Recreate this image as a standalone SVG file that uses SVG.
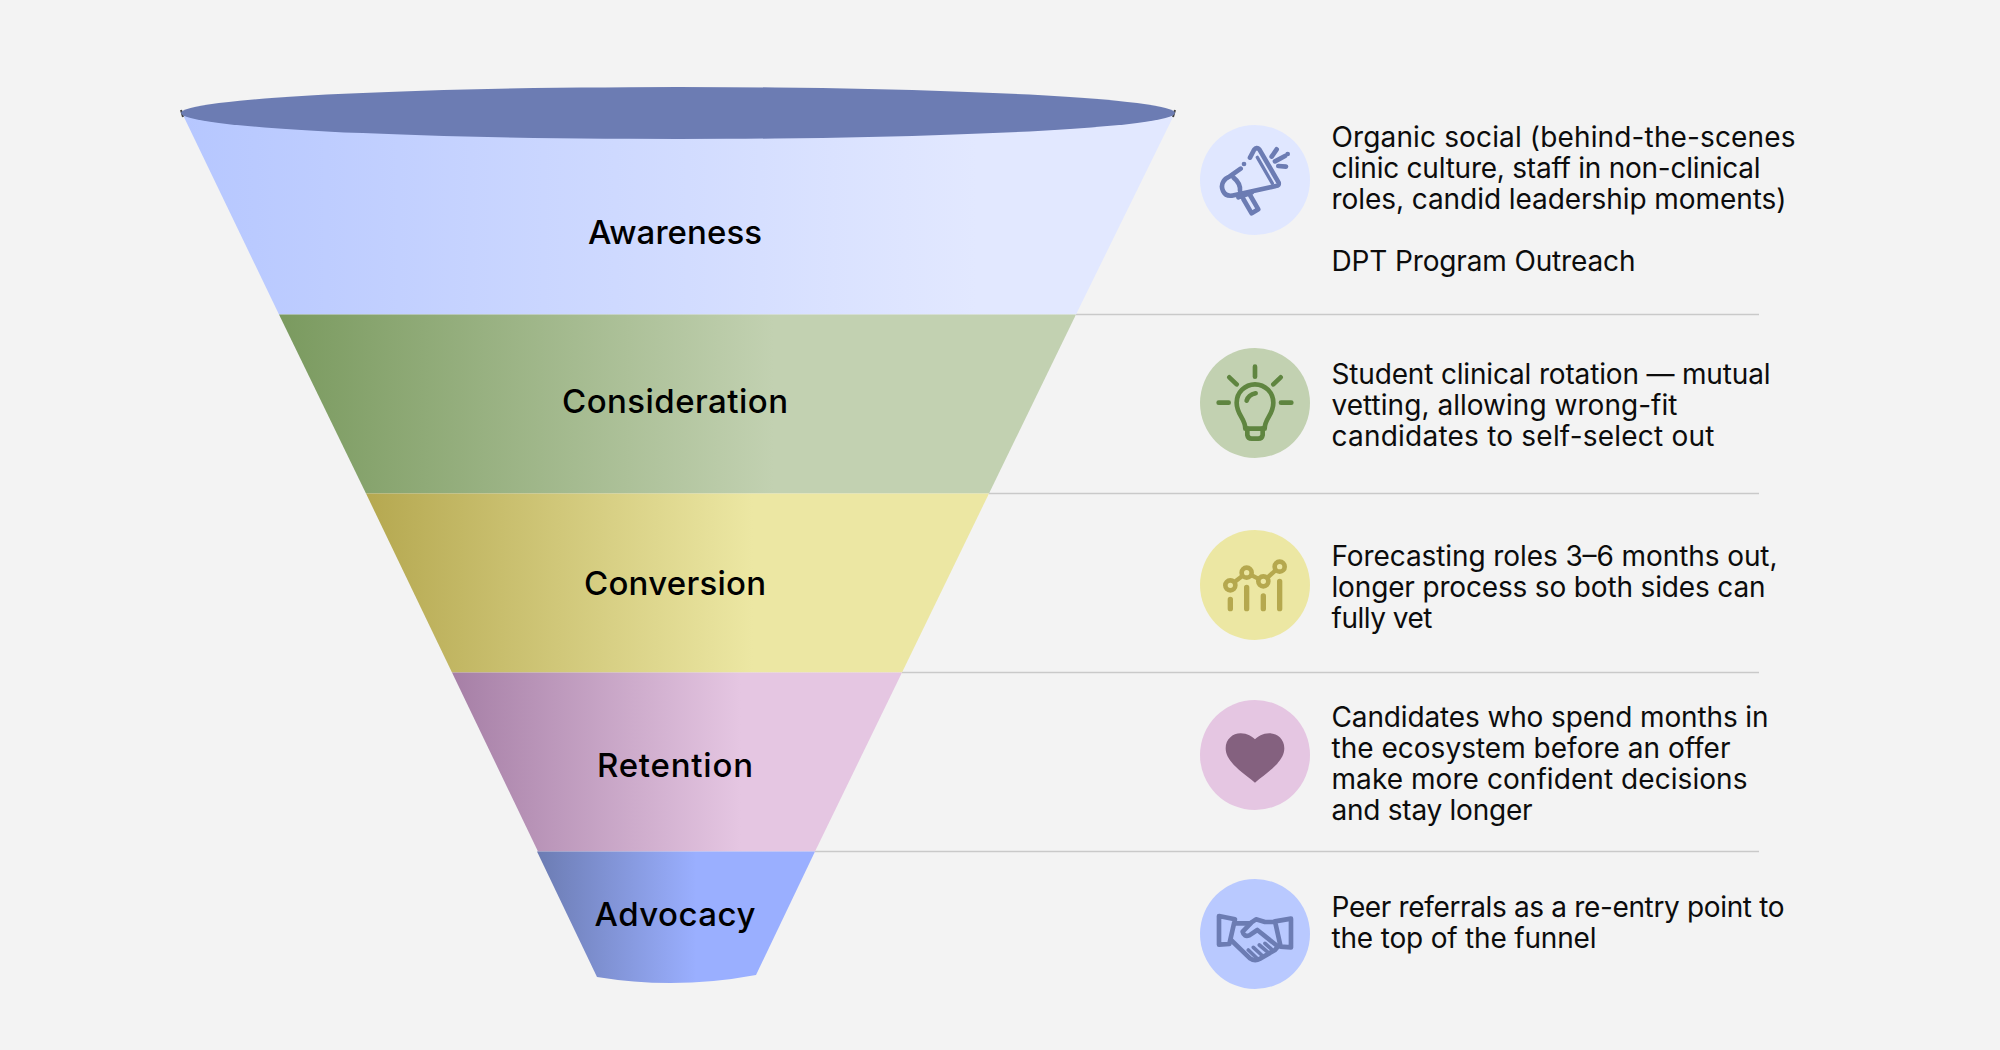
<svg xmlns="http://www.w3.org/2000/svg" width="2000" height="1050" viewBox="0 0 2000 1050">
<style>
.lab{font-family:"Inter","Liberation Sans",sans-serif;font-size:33px;font-weight:500;fill:#000;text-anchor:middle}
.txt{font-family:"Inter","Liberation Sans",sans-serif;font-size:28px;font-weight:400;fill:#0c0c0c}
.sep{stroke:#c9c9c9;stroke-width:1.6;fill:none}
.ic{fill:none;stroke-linecap:round;stroke-linejoin:round}
</style>
<defs>
<linearGradient id="g1" gradientUnits="userSpaceOnUse" x1="182" x2="1175" y1="0" y2="0"><stop offset="0" stop-color="#b6c7ff"/><stop offset=".8" stop-color="#e2e8ff"/></linearGradient>
<linearGradient id="g2" gradientUnits="userSpaceOnUse" x1="279" x2="1077" y1="0" y2="0"><stop offset="0" stop-color="#7a9a5f"/><stop offset=".62" stop-color="#c2d1b1"/></linearGradient>
<linearGradient id="g3" gradientUnits="userSpaceOnUse" x1="366" x2="990" y1="0" y2="0"><stop offset="0" stop-color="#b5a850"/><stop offset=".62" stop-color="#ece7a3"/></linearGradient>
<linearGradient id="g4" gradientUnits="userSpaceOnUse" x1="452" x2="903" y1="0" y2="0"><stop offset="0" stop-color="#a67fa6"/><stop offset=".64" stop-color="#e5c6e2"/></linearGradient>
<linearGradient id="g5" gradientUnits="userSpaceOnUse" x1="538" x2="816" y1="0" y2="0"><stop offset="0" stop-color="#6c7cb3"/><stop offset=".57" stop-color="#9aafff"/></linearGradient>
</defs>
<rect width="2000" height="1050" fill="#f3f3f3"/>
<g id="connectors">
<line class="sep" x1="1076" y1="314.5" x2="1759" y2="314.5"/>
<line class="sep" x1="989" y1="493.5" x2="1759" y2="493.5"/>
<line class="sep" x1="902" y1="672.5" x2="1759" y2="672.5"/>
<line class="sep" x1="815" y1="851.5" x2="1759" y2="851.5"/>
</g>
<g id="awareness">
<path d="M182 113H1175L1076 314.5H279Z" fill="url(#g1)"/>
<path d="M181 110L183 117M1175 110L1173 117" stroke="#444" stroke-width="2" fill="none"/>
<ellipse cx="678" cy="113" rx="497" ry="26" fill="#6c7cb3"/>
<text class="lab" x="675" y="244" textLength="174">Awareness</text>
<circle cx="1255" cy="180" r="55" fill="#e0e7ff"/>
<g class="ic" transform="translate(1170 100) scale(.3333)" stroke="#6c7cb3" stroke-width="14">
<path d="M252 150Q260 140 268 148L326 248Q328 258 318 258L185 287C160 290 150 262 160 245Q165 235 178 230L212 206M240 173L252 150"/>
<path d="M262 172L307 250" stroke-width="10"/>
<path d="M190 232Q212 250 210 272"/>
<path d="M205 292L245 278M220 297L245 340L265 328L240 285"/>
<path d="M320 148L305 170M345 168L315 184M325 198L348 200"/>
<path d="M222 192h.1M353 162h.1" stroke-width="14"/>
</g>
<g class="txt">
<text x="1331.5" y="146.5" textLength="464">Organic social (behind-the-scenes</text>
<text x="1331.5" y="177.5" textLength="429">clinic culture, staff in non-clinical</text>
<text x="1331.5" y="208.5" textLength="455">roles, candid leadership moments)</text>
<text x="1331.5" y="270.5" textLength="304">DPT Program Outreach</text>
</g>
</g>
<g id="consideration">
<path d="M279 314.5H1076L989 493.5H366Z" fill="url(#g2)"/>
<text class="lab" x="675" y="413" textLength="226">Consideration</text>
<circle cx="1255" cy="403" r="55" fill="#c2d1b1"/>
<g class="ic" transform="translate(1170 330) scale(.3333)" stroke="#5f8540" stroke-width="14">
<path d="M255 110V140M178 142L200 163M332 142L310 163M146 218H176M333 218H364"/>
<path d="M226 296C226 265 200 255 200 218A55 55 0 1 1 310 218C310 255 284 265 284 296Z"/>
<path d="M232 296V315Q234 326 245 326H265Q276 326 278 315V296"/>
<path d="M230 212Q235 195 257 190"/>
</g>
<g class="txt">
<text x="1331.5" y="383.5" textLength="439">Student clinical rotation — mutual</text>
<text x="1331.5" y="414.5" textLength="346">vetting, allowing wrong-fit</text>
<text x="1331.5" y="445.5" textLength="383">candidates to self-select out</text>
</g>
</g>
<g id="conversion">
<path d="M366 493.5H989L902 672.5H452Z" fill="url(#g3)"/>
<text class="lab" x="675" y="595" textLength="182">Conversion</text>
<circle cx="1255" cy="585" r="55" fill="#ece7a3"/>
<g class="ic" transform="translate(1170 510) scale(.3333)" stroke="#b5a84e" stroke-width="16">
<path d="M181 268V296M230 232V296M280 258V296M329 214V296"/>
<path d="M181 226L230 188L280 214L329 170" stroke-width="13"/>
<g fill="#ece7a3" stroke-width="14"><circle cx="181" cy="226" r="15"/><circle cx="230" cy="188" r="15"/><circle cx="280" cy="214" r="15"/><circle cx="329" cy="170" r="15"/></g>
</g>
<g class="txt">
<text x="1331.5" y="565.5" textLength="446">Forecasting roles 3–6 months out,</text>
<text x="1331.5" y="596.5" textLength="434">longer process so both sides can</text>
<text x="1331.5" y="627.5" textLength="101">fully vet</text>
</g>
</g>
<g id="retention">
<path d="M452 672.5H902L815 851.5H538Z" fill="url(#g4)"/>
<text class="lab" x="675" y="777" textLength="156">Retention</text>
<circle cx="1255" cy="755" r="55" fill="#e5c6e2"/>
<path transform="translate(1170 680) scale(.3333)" fill="#84617f" d="M255 308C215 275 167 245 167 205C167 178 188 160 212 160C232 160 247 170 255 178C263 170 278 160 298 160C322 160 343 178 343 205C343 245 295 275 255 308Z"/>
<g class="txt">
<text x="1331.5" y="726.5" textLength="437">Candidates who spend months in</text>
<text x="1331.5" y="757.5" textLength="399">the ecosystem before an offer</text>
<text x="1331.5" y="788.5" textLength="416">make more confident decisions</text>
<text x="1331.5" y="819.5" textLength="201">and stay longer</text>
</g>
</g>
<g id="advocacy">
<path d="M537 851.5H815L756 975Q676 990 597 977Z" fill="url(#g5)"/>
<text class="lab" x="675" y="926" textLength="161">Advocacy</text>
<circle cx="1255" cy="934" r="55" fill="#b9c9ff"/>
<g class="ic" transform="translate(1170 860) scale(.3333)" stroke="#6c7cb3" stroke-width="14">
<path d="M147 168L195 178L178 252L147 254Z"/>
<path d="M363 176L315 184L332 260L363 262Z"/>
<path d="M197 190L240 190L258 178L285 186L315 186"/>
<path d="M183 240L240 295Q255 305 270 296L315 270L325 258"/>
<path d="M242 190L218 215Q222 232 238 226L262 210L322 258"/>
<path d="M235 270L260 294M250 262L278 288M268 255L295 278M285 250L305 268" stroke-width="11"/>
</g>
<g class="txt">
<text x="1331.5" y="916.5" textLength="453">Peer referrals as a re-entry point to</text>
<text x="1331.5" y="947.5" textLength="265">the top of the funnel</text>
</g>
</g>
</svg>
